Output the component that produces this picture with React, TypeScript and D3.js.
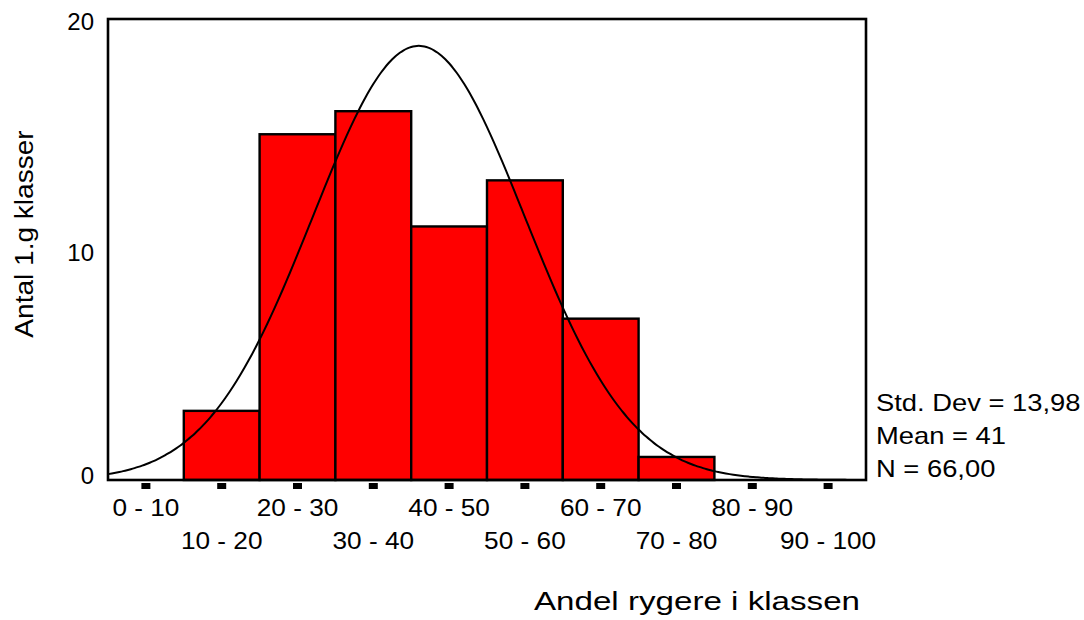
import React from 'react';
import * as d3 from 'd3';

// histogram bins (percent of smokers in class)
const binStarts = [0, 10, 20, 30, 40, 50, 60, 70, 80, 90];
const binLabels = ['0 - 10', '10 - 20', '20 - 30', '30 - 40', '40 - 50', '50 - 60', '60 - 70', '70 - 80', '80 - 90', '90 - 100'];
const counts = [0, 3, 15, 16, 11, 13, 7, 1, 0, 0];
const yTicks = [0, 10, 20];

// summary stats shown at right
const MEAN = 41;
const SD = 13.98;
const N = 66;
const BIN_WIDTH = 10;
const statLines = ['Std. Dev = 13,98', 'Mean = 41', 'N = 66,00'];

const FONT = 'Arial, "Liberation Sans", sans-serif';

const App: React.FC = () => {
  const width = 1084;
  const height = 620;
  const left = 108;
  const right = 866;
  const top = 19;
  const bottom = 480;

  const x = d3.scaleLinear().domain([0, 100]).range([left, right]);
  const y = d3.scaleLinear().domain([0, 20]).range([bottom, top]);

  // fitted normal curve, scaled to counts per bin
  const dens = (v: number) =>
    (N * BIN_WIDTH) / (SD * Math.sqrt(2 * Math.PI)) * Math.exp(-0.5 * ((v - MEAN) / SD) ** 2);
  const curvePts = d3.range(0, 100.01, 0.5).map((v) => [v, dens(v)] as [number, number]);
  const line = d3
    .line<[number, number]>()
    .x((d) => x(d[0]))
    .y((d) => y(d[1]))
    .curve(d3.curveMonotoneX);

  return (
    <svg
      width={width}
      height={height}
      style={{ position: 'absolute', left: 0, top: 0, background: '#fff' }}
      fontFamily={FONT}
    >
      {/* bars */}
      {counts.map((c, i) =>
        c > 0 ? (
          <rect
            key={i}
            x={x(binStarts[i])}
            y={y(c)}
            width={x(binStarts[i] + BIN_WIDTH) - x(binStarts[i])}
            height={y(0) - y(c)}
            fill="#ff0000"
            stroke="#000"
            strokeWidth={2.4}
          />
        ) : null
      )}

      {/* normal curve */}
      <path d={line(curvePts) || ''} fill="none" stroke="#000" strokeWidth={2} />

      {/* frame */}
      <rect x={left} y={top} width={right - left} height={bottom - top} fill="none" stroke="#000" strokeWidth={2.6} />

      {/* y ticks */}
      {yTicks.map((t) => (
        <text
          key={t}
          x={94}
          y={Math.min(y(t) + 3, y(0) - 4)}
          dy="0.35em"
          textAnchor="end"
          fontSize={24}
          fill="#000"
        >
          {t}
        </text>
      ))}

      {/* x tick marks and labels */}
      {binStarts.map((b, i) => {
        const cx = x(b + BIN_WIDTH / 2);
        const ly = i % 2 === 0 ? 508 : 541;
        return (
          <g key={b}>
            <rect x={cx - 4.5} y={483} width={9} height={6} fill="#000" />
            <text
              transform={`translate(${cx},${ly}) scale(1.14,1)`}
              dy="0.35em"
              textAnchor="middle"
              fontSize={23}
              fill="#000"
            >
              {binLabels[i]}
            </text>
          </g>
        );
      })}

      {/* stats */}
      {statLines.map((s, i) => (
        <text key={s} transform={`translate(876,${411 + i * 33}) scale(1.19,1)`} fontSize={23} fill="#000">
          {s}
        </text>
      ))}

      {/* axis titles */}
      <text transform="translate(860,610) scale(1.3,1)" textAnchor="end" fontSize={25.5} fill="#000">
        Andel rygere i klassen
      </text>
      <text transform="translate(33,234) rotate(-90) scale(1.1,1)" textAnchor="middle" fontSize={25.5} fill="#000">
        Antal 1.g klasser
      </text>
    </svg>
  );
};

export default App;
